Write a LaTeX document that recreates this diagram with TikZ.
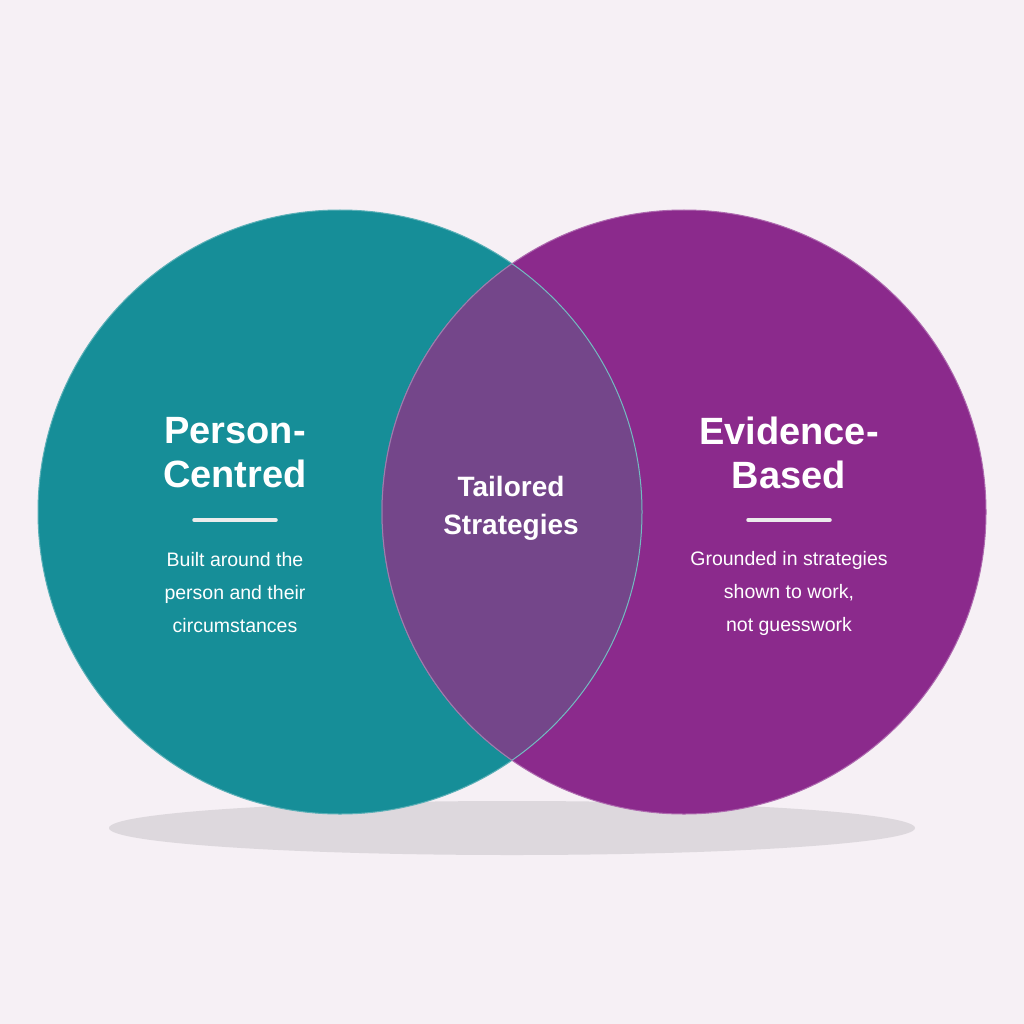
\documentclass[tikz,border=0pt]{standalone}
\usepackage{fontspec}
\setmainfont{Liberation Sans}
\begin{document}
\begin{tikzpicture}[x=1pt,y=-1pt,
  title/.style={text=white,font=\fontsize{38}{44}\selectfont\bfseries,align=center},
  mid/.style={text=white,font=\fontsize{28}{38}\selectfont\bfseries,align=center},
  body/.style={text=white,font=\fontsize{19.5}{33}\selectfont,align=center},
  bar/.style={white!85!gray,line width=3.5pt,line cap=round}]
\definecolor{bg}{HTML}{F6F0F5}
\definecolor{teal}{HTML}{168E98}
\definecolor{purp}{HTML}{8B2A8C}
\definecolor{over}{HTML}{74468A}
\fill[bg] (0,0) rectangle (1024,1024);
\useasboundingbox (0,0) rectangle (1024,1024);
\fill[black!10!bg] (512,828) ellipse (403 and 27);
\fill[teal,draw=teal!70!white,line width=1pt] (340,512) circle (302);
\fill[purp,draw=purp!70!white,line width=1pt] (684,512) circle (302);
\begin{scope}
\clip (340,512) circle (302);
\fill[over,draw=over!70!white,line width=1pt] (684,512) circle (302);
\end{scope}
\begin{scope}
\clip (684,512) circle (302);
\draw[teal!60!white,line width=1pt] (340,512) circle (302);
\end{scope}
\node[title] (pc) at (235,453) {Person-\\Centred};
\coordinate (l1) at (194,520); \coordinate (l2) at (276,520);
\draw[bar] (l1) -- (l2);
\node[body] (pcb) at (235,593) {Built around the\\person and their\\circumstances};
\node[title] (eb) at (789,453) {Evidence-\\Based};
\coordinate (r1) at (748,520); \coordinate (r2) at (830,520);
\draw[bar] (r1) -- (r2);
\node[body] (ebb) at (789,593) {Grounded in strategies\\shown to work,\\not guesswork};
\node[mid] (ts) at (511,508) {Tailored\\Strategies};
\end{tikzpicture}
\end{document}
